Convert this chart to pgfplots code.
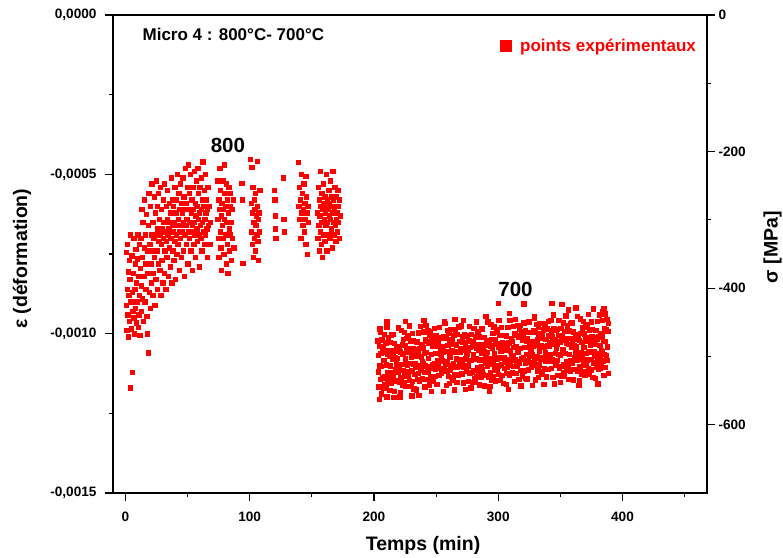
\documentclass[border=0pt]{standalone}
\usepackage{pgfplots}
\pgfplotsset{compat=1.18}
\usepackage{fontspec}
\setmainfont{Liberation Sans}
\begin{document}
\begin{tikzpicture}[font=\bfseries]
\begin{axis}[
  scale only axis,
  width=594pt, height=478pt,
  xmin=-10, xmax=468,
  ymin=-0.0015, ymax=0,
  xtick={0,100,...,400},
  minor xtick={50,150,...,450},
  ytick={-0.0015,-0.001,-0.0005,0},
  minor ytick={-0.00125,-0.00075,-0.00025},
  xtick pos=bottom, ytick pos=left,
  tick align=outside,
  major tick length=8pt, minor tick length=4pt,
  tick style={black, line width=1.1pt},
  axis line style={line width=1.3pt},
  scaled y ticks=false,
  yticklabel style={xshift=-5pt, /pgf/number format/.cd, fixed, fixed zerofill, precision=4, use comma},
  /pgf/number format/assume math mode=true,
  ticklabel style={font=\bfseries\fontsize{13.6}{16}\selectfont},
  xticklabel style={yshift=-7pt},
  xlabel={Temps (min)}, ylabel={ε (déformation)},
  label style={font=\bfseries\fontsize{19.5}{22}\selectfont},
  xlabel style={at={(axis description cs:0.522,0)}, yshift=-52pt, anchor=center},
  ylabel style={at={(axis description cs:-0.153,0.49)}, anchor=center},
  legend style={at={(axis description cs:0.985,0.955)}, anchor=north east, draw=none, fill=none,
    font=\bfseries\fontsize{17}{20}\selectfont, text=red, inner sep=0pt},
  legend image code/.code={\fill[red] (0pt,-5.5pt) rectangle (11pt,5.5pt); \path (18pt,0pt);},
]
\coordinate (SW) at (rel axis cs:0,0);
\coordinate (NE) at (rel axis cs:1,1);
% 800 C segment
\addplot[only marks, mark=square*, mark size=2.2pt, color=red, mark options={draw=none, fill=red}] coordinates {
(0.5,-0.000745)(0.8,-0.000910)(1.0,-0.000990)(1.2,-0.000860)(1.5,-0.000720)(1.8,-0.000940)(2.0,-0.000805)(2.3,-0.001010)(2.6,-0.000880)(2.9,-0.000770)
(3.2,-0.000960)(3.5,-0.000830)(3.8,-0.001170)(4.0,-0.000690)(4.3,-0.000900)(4.6,-0.000985)(5.0,-0.000755)(5.3,-0.001120)(5.6,-0.000870)(5.9,-0.000930)
(6.2,-0.000810)(6.5,-0.000950)(6.8,-0.000700)(7.1,-0.001000)(7.4,-0.000860)(7.7,-0.000780)(8.0,-0.000920)(8.3,-0.000735)(8.6,-0.000965)(8.9,-0.000840)
(9.2,-0.000900)(9.5,-0.000765)(9.8,-0.000690)(10.1,-0.000980)(10.4,-0.000820)(10.7,-0.000940)(11.0,-0.000720)(11.3,-0.000880)(11.6,-0.001005)(11.9,-0.000795)
(12.2,-0.000700)(12.5,-0.000850)(12.8,-0.000930)(13.1,-0.000610)(13.4,-0.000760)(13.7,-0.000890)(14.0,-0.000650)(14.3,-0.000960)(14.6,-0.000820)(14.9,-0.000730)
(15.2,-0.000580)(15.5,-0.000900)(15.8,-0.000690)(16.1,-0.000780)(16.4,-0.000860)(16.7,-0.000625)(17.0,-0.000945)(17.3,-0.000740)(17.6,-0.001000)(17.9,-0.000810)
(18.2,-0.000660)(18.5,-0.001060)(18.8,-0.000560)(19.1,-0.000870)(19.4,-0.000720)(19.7,-0.000920)(20.0,-0.000600)(20.3,-0.000780)(20.6,-0.000690)(20.9,-0.000840)
(21.2,-0.000530)(21.5,-0.000740)(21.8,-0.000880)(22.1,-0.000650)(22.4,-0.000810)(22.7,-0.000700)(23.0,-0.000570)(23.3,-0.000760)(23.6,-0.000910)(23.9,-0.000620)
(24.2,-0.000690)(24.5,-0.000830)(24.8,-0.000520)(25.1,-0.000740)(25.4,-0.000600)(25.7,-0.000860)(26.0,-0.000670)(26.3,-0.000780)(26.6,-0.000560)(26.9,-0.000710)
(27.2,-0.000640)(27.5,-0.000800)(27.8,-0.000690)(28.1,-0.000540)(28.4,-0.000880)(28.7,-0.000720)(29.0,-0.000610)(29.3,-0.000770)(29.6,-0.000670)(29.9,-0.000840)
(30.2,-0.000580)(30.5,-0.000700)(30.8,-0.000650)(31.1,-0.000810)(31.4,-0.000530)(31.7,-0.000740)(32.0,-0.000680)(32.3,-0.000860)(32.6,-0.000600)(32.9,-0.000710)
(33.2,-0.000760)(33.5,-0.000640)(33.8,-0.000550)(34.1,-0.000690)(34.4,-0.000820)(34.7,-0.000670)(35.0,-0.000590)(35.3,-0.000730)(35.6,-0.000650)(35.9,-0.000790)
(36.2,-0.000620)(36.5,-0.000700)(36.8,-0.000510)(37.1,-0.000840)(37.4,-0.000660)(37.7,-0.000580)(38.0,-0.000740)(38.3,-0.000680)(38.6,-0.000600)(38.9,-0.000770)
(39.2,-0.000650)(39.5,-0.000540)(39.8,-0.000710)(40.1,-0.000830)(40.4,-0.000620)(40.7,-0.000690)(41.0,-0.000580)(41.3,-0.000750)(41.6,-0.000660)(41.9,-0.000500)
(42.2,-0.000720)(42.5,-0.000640)(42.8,-0.000560)(43.1,-0.000800)(43.4,-0.000680)(43.7,-0.000610)(44.0,-0.000700)(44.3,-0.000530)(44.6,-0.000660)(44.9,-0.000760)
(45.2,-0.000590)(45.5,-0.000680)(45.8,-0.000620)(46.1,-0.000510)(46.4,-0.000740)(46.7,-0.000650)(47.0,-0.000570)(47.3,-0.000820)(47.6,-0.000690)(47.9,-0.000610)
(48.2,-0.000480)(48.5,-0.000660)(48.8,-0.000720)(49.1,-0.000590)(49.4,-0.000640)(49.7,-0.000540)(50.0,-0.000780)(50.3,-0.000470)(50.6,-0.000680)(50.9,-0.000610)
(51.2,-0.000700)(51.5,-0.000560)(51.8,-0.000650)(52.1,-0.000500)(52.4,-0.000740)(52.7,-0.000620)(53.0,-0.000680)(53.3,-0.000580)(53.6,-0.000800)(53.9,-0.000660)
(54.2,-0.000540)(54.5,-0.000610)(54.8,-0.000720)(55.1,-0.000650)(55.4,-0.000490)(55.7,-0.000690)(56.0,-0.000590)(56.3,-0.000760)(56.6,-0.000630)(56.9,-0.000520)
(57.2,-0.000670)(57.5,-0.000600)(57.8,-0.000710)(58.1,-0.000480)(58.4,-0.000640)(58.7,-0.000560)(59.0,-0.000690)(59.3,-0.000790)(59.6,-0.000620)(59.9,-0.000540)
(60.2,-0.000660)(60.5,-0.000700)(60.8,-0.000510)(61.1,-0.000610)(61.4,-0.000740)(61.7,-0.000580)(62.0,-0.000650)(62.3,-0.000460)(62.6,-0.000680)(62.9,-0.000600)
(63.2,-0.000720)(63.5,-0.000550)(63.8,-0.000640)(64.1,-0.000690)(64.4,-0.000500)(64.7,-0.000620)(65.0,-0.000580)(65.3,-0.000670)(65.6,-0.000760)(65.9,-0.000610)
(66.3,-0.000540)(66.8,-0.000660)(67.3,-0.000600)(67.8,-0.000720)(68.3,-0.000650)
(74.0,-0.000520)(74.3,-0.000640)(74.6,-0.000700)(74.9,-0.000580)(75.2,-0.000760)(75.5,-0.000610)(75.8,-0.000480)(76.1,-0.000680)(76.4,-0.000550)(76.7,-0.000730)
(77.0,-0.000630)(77.3,-0.000800)(77.6,-0.000590)(77.9,-0.000660)(78.2,-0.000520)(78.5,-0.000700)(78.8,-0.000610)(79.1,-0.000750)(79.4,-0.000470)(79.7,-0.000640)
(80.0,-0.000560)(80.3,-0.000690)(80.6,-0.000600)(80.9,-0.000780)(81.2,-0.000530)(81.5,-0.000650)(81.8,-0.000720)(82.1,-0.000580)(82.4,-0.000810)(82.7,-0.000620)
(83.0,-0.000540)(83.3,-0.000670)(83.6,-0.000740)(83.9,-0.000600)(84.2,-0.000690)(84.5,-0.000560)(84.8,-0.000650)(85.2,-0.000770)(85.6,-0.000610)(86.0,-0.000700)
(86.5,-0.000580)(87.0,-0.000730)
(93.5,-0.000527)(94.0,-0.000580)(94.3,-0.000778)
(100.5,-0.000452)(101.0,-0.000590)(101.3,-0.000680)(101.6,-0.000477)(101.9,-0.000720)(102.2,-0.000620)(102.5,-0.000540)(102.8,-0.000760)(103.1,-0.000650)(103.4,-0.000580)
(103.7,-0.000700)(104.0,-0.000610)(104.3,-0.000740)(104.6,-0.000560)(104.9,-0.000660)(105.2,-0.000630)(105.5,-0.000690)(105.8,-0.000458)(106.1,-0.000600)(106.4,-0.000710)
(106.7,-0.000640)(107.0,-0.000770)(107.3,-0.000620)(107.6,-0.000680)(108.0,-0.000550)
(119.5,-0.000550)(120.0,-0.000580)(120.3,-0.000630)(120.6,-0.000670)(121.0,-0.000700)
(127.0,-0.000510)(127.3,-0.000640)(127.6,-0.000680)
(139.0,-0.000462)(139.4,-0.000600)(139.8,-0.000540)(140.2,-0.000640)(140.6,-0.000580)(141.0,-0.000700)(141.4,-0.000500)(141.8,-0.000620)(142.2,-0.000560)(142.6,-0.000660)
(143.0,-0.000610)(143.4,-0.000530)(143.8,-0.000680)(144.2,-0.000590)(144.6,-0.000640)(145.0,-0.000720)(145.4,-0.000570)(145.8,-0.000620)(146.2,-0.000750)(146.6,-0.000600)
(147.0,-0.000650)(145.2,-0.000505)
(154.5,-0.000620)(154.8,-0.000700)(155.1,-0.000540)(155.4,-0.000660)(155.7,-0.000740)(156.0,-0.000580)(156.3,-0.000630)(156.6,-0.000490)(156.9,-0.000680)(157.2,-0.000600)
(157.5,-0.000720)(157.8,-0.000560)(158.1,-0.000650)(158.4,-0.000760)(158.7,-0.000610)(159.0,-0.000530)(159.3,-0.000690)(159.6,-0.000590)(159.9,-0.000640)(160.2,-0.000710)
(160.5,-0.000570)(160.8,-0.000620)(161.1,-0.000660)(161.4,-0.000500)(161.7,-0.000600)(162.0,-0.000740)(162.3,-0.000580)(162.6,-0.000650)(162.9,-0.000610)(163.2,-0.000690)
(163.5,-0.000550)(163.8,-0.000630)(164.1,-0.000590)(164.4,-0.000700)(164.7,-0.000520)(165.0,-0.000640)(165.3,-0.000600)(165.6,-0.000670)(165.9,-0.000570)(166.2,-0.000730)
(166.5,-0.000620)(166.8,-0.000490)(167.1,-0.000650)(167.4,-0.000580)(167.7,-0.000690)(168.0,-0.000610)(168.3,-0.000540)(168.6,-0.000660)(168.9,-0.000600)(169.2,-0.000710)
(169.5,-0.000570)(169.8,-0.000640)(170.1,-0.000620)(170.4,-0.000680)(170.7,-0.000550)(171.0,-0.000600)(171.4,-0.000650)(171.8,-0.000700)(172.2,-0.000580)(172.6,-0.000630)
};
\addlegendentry{points expérimentaux}
% 700 C segment
\addplot[only marks, mark=square*, mark size=2.2pt, color=red, mark options={draw=none, fill=red}, forget plot] coordinates {
(203.0,-0.001022)(203.3,-0.001119)(203.6,-0.001068)(203.9,-0.001167)(204.2,-0.001040)(204.5,-0.001101)(204.8,-0.000994)(205.1,-0.001143)(205.4,-0.001061)(205.7,-0.001188)
(206.0,-0.001102)(206.3,-0.001019)(206.6,-0.001138)(206.9,-0.001057)(207.2,-0.001170)(207.5,-0.001041)(207.8,-0.001084)(208.1,-0.001133)(208.4,-0.001001)(208.7,-0.001158)
(209.0,-0.001052)(209.3,-0.001169)(209.6,-0.001028)(209.9,-0.001097)(210.2,-0.000980)(210.5,-0.001151)(210.8,-0.001064)(211.1,-0.001123)(211.4,-0.001011)(211.7,-0.001138)
(212.0,-0.001132)(212.3,-0.001069)(212.6,-0.001178)(212.9,-0.001027)(213.2,-0.001100)(213.5,-0.001051)(213.8,-0.001154)(214.1,-0.001003)(214.4,-0.001121)(214.7,-0.001078)
(215.0,-0.001002)(215.3,-0.001129)(215.6,-0.001058)(215.9,-0.001147)(216.2,-0.001030)(216.5,-0.001181)(216.8,-0.001074)(217.1,-0.001053)(217.4,-0.001111)(217.7,-0.001098)
(218.0,-0.001092)(218.3,-0.001039)(218.6,-0.001148)(218.9,-0.001077)(219.2,-0.001120)(219.5,-0.000981)(219.8,-0.001104)(220.1,-0.001153)(220.4,-0.001051)(220.7,-0.001198)
(221.0,-0.001183)(221.3,-0.001056)(221.6,-0.001138)(221.9,-0.000989)(222.2,-0.001096)(222.5,-0.001035)(222.8,-0.001162)(223.1,-0.001063)(223.4,-0.001114)(223.7,-0.001017)
(224.0,-0.001153)(224.3,-0.000996)(224.6,-0.001128)(224.9,-0.001079)(225.2,-0.001036)(225.5,-0.001165)(225.8,-0.001052)(226.1,-0.001133)(226.4,-0.001014)(226.7,-0.001097)
(227.0,-0.001133)(227.3,-0.001006)(227.6,-0.001118)(227.9,-0.001059)(228.2,-0.001146)(228.5,-0.000975)(228.8,-0.001092)(229.1,-0.001023)(229.4,-0.001164)(229.7,-0.001047)
(230.0,-0.001073)(230.3,-0.001116)(230.6,-0.000998)(230.9,-0.001149)(231.2,-0.001046)(231.5,-0.001095)(231.8,-0.001022)(232.1,-0.001173)(232.4,-0.001064)(232.7,-0.001127)
(233.0,-0.001093)(233.3,-0.001106)(233.6,-0.001048)(233.9,-0.001069)(234.2,-0.001176)(234.5,-0.001025)(234.8,-0.001142)(235.1,-0.001053)(235.4,-0.001124)(235.7,-0.000997)
(236.0,-0.001193)(236.3,-0.001046)(236.6,-0.001148)(236.9,-0.001099)(237.2,-0.000976)(237.5,-0.001115)(237.8,-0.001072)(238.1,-0.001143)(238.4,-0.001034)(238.7,-0.001087)
(239.0,-0.001139)(239.3,-0.001042)(239.6,-0.001093)(239.9,-0.000994)(240.2,-0.001121)(240.5,-0.001060)(240.8,-0.001167)(241.1,-0.001018)(241.4,-0.001100)(241.7,-0.000973)
(242.0,-0.001059)(242.3,-0.001142)(242.6,-0.001023)(242.9,-0.001104)(243.2,-0.000991)(243.5,-0.001120)(243.8,-0.001077)(244.1,-0.001028)(244.4,-0.001160)(244.7,-0.001003)
(245.0,-0.001109)(245.3,-0.000992)(245.6,-0.001133)(245.9,-0.001064)(246.2,-0.001181)(246.5,-0.001010)(246.8,-0.001097)(247.1,-0.001038)(247.4,-0.001150)(247.7,-0.001023)
(248.0,-0.001029)(248.3,-0.001092)(248.6,-0.000983)(248.9,-0.001134)(249.2,-0.001061)(249.5,-0.001110)(249.8,-0.001007)(250.1,-0.001158)(250.4,-0.001040)(250.7,-0.001083)
(251.0,-0.001159)(251.3,-0.001032)(251.6,-0.001103)(251.9,-0.001014)(252.2,-0.001131)(252.5,-0.000980)(252.8,-0.001087)(253.1,-0.001108)(253.4,-0.001050)(253.7,-0.001063)
(254.0,-0.001069)(254.3,-0.001122)(254.6,-0.001013)(254.9,-0.001084)(255.2,-0.001041)(255.5,-0.001180)(255.8,-0.001057)(256.1,-0.001008)(256.4,-0.001110)(256.7,-0.000963)
(257.0,-0.000968)(257.3,-0.001095)(257.6,-0.001013)(257.9,-0.001162)(258.2,-0.001055)(258.5,-0.001116)(258.8,-0.000989)(259.1,-0.001088)(259.4,-0.001037)(259.7,-0.001134)
(260.0,-0.000998)(260.3,-0.001155)(260.6,-0.001023)(260.9,-0.001072)(261.2,-0.001115)(261.5,-0.000986)(261.8,-0.001099)(262.1,-0.001018)(262.4,-0.001137)(262.7,-0.001054)
(263.0,-0.001018)(263.3,-0.001145)(263.6,-0.001033)(263.9,-0.001092)(264.2,-0.001005)(264.5,-0.001176)(264.8,-0.001059)(265.1,-0.001128)(265.4,-0.000987)(265.7,-0.001104)
(266.0,-0.001078)(266.3,-0.001035)(266.6,-0.001153)(266.9,-0.001002)(267.2,-0.001105)(267.5,-0.001056)(267.8,-0.001129)(268.1,-0.000978)(268.4,-0.001087)(268.7,-0.001024)
(269.0,-0.001058)(269.3,-0.001045)(269.6,-0.001103)(269.9,-0.001082)(270.2,-0.000975)(270.5,-0.001126)(270.8,-0.001009)(271.1,-0.001098)(271.4,-0.001027)(271.7,-0.001154)
(272.0,-0.000958)(272.3,-0.001105)(272.6,-0.001003)(272.9,-0.001052)(273.2,-0.001175)(273.5,-0.001036)(273.8,-0.001079)(274.1,-0.001008)(274.4,-0.001117)(274.7,-0.001064)
(275.0,-0.001004)(275.3,-0.001101)(275.6,-0.001050)(275.9,-0.001149)(276.2,-0.001022)(276.5,-0.001083)(276.8,-0.000976)(277.1,-0.001125)(277.4,-0.001043)(277.7,-0.001170)
(278.0,-0.001084)(278.3,-0.001001)(278.6,-0.001120)(278.9,-0.001039)(279.2,-0.001152)(279.5,-0.001023)(279.8,-0.001066)(280.1,-0.001115)(280.4,-0.000983)(280.7,-0.001140)
(281.0,-0.001034)(281.3,-0.001151)(281.6,-0.001010)(281.9,-0.001079)(282.2,-0.000962)(282.5,-0.001133)(282.8,-0.001046)(283.1,-0.001105)(283.4,-0.000993)(283.7,-0.001120)
(284.0,-0.001114)(284.3,-0.001051)(284.6,-0.001160)(284.9,-0.001009)(285.2,-0.001082)(285.5,-0.001033)(285.8,-0.001136)(286.1,-0.000985)(286.4,-0.001103)(286.7,-0.001060)
(287.0,-0.000984)(287.3,-0.001111)(287.6,-0.001040)(287.9,-0.001129)(288.2,-0.001012)(288.5,-0.001163)(288.8,-0.001056)(289.1,-0.001035)(289.4,-0.001093)(289.7,-0.001080)
(290.0,-0.001074)(290.3,-0.001021)(290.6,-0.001130)(290.9,-0.001059)(291.2,-0.001102)(291.5,-0.000963)(291.8,-0.001086)(292.1,-0.001135)(292.4,-0.001033)(292.7,-0.001180)
(293.0,-0.001165)(293.3,-0.001038)(293.6,-0.001120)(293.9,-0.000971)(294.2,-0.001078)(294.5,-0.001017)(294.8,-0.001144)(295.1,-0.001045)(295.4,-0.001096)(295.7,-0.000999)
(296.0,-0.001135)(296.3,-0.000978)(296.6,-0.001110)(296.9,-0.001061)(297.2,-0.001018)(297.5,-0.001147)(297.8,-0.001034)(298.1,-0.001115)(298.4,-0.000996)(298.7,-0.001079)
(299.0,-0.001115)(299.3,-0.000988)(299.6,-0.001100)(299.9,-0.001041)(300.2,-0.001128)(300.5,-0.000957)(300.8,-0.001074)(301.1,-0.001005)(301.4,-0.001146)(301.7,-0.001029)
(302.0,-0.001055)(302.3,-0.001098)(302.6,-0.000980)(302.9,-0.001131)(303.2,-0.001028)(303.5,-0.001077)(303.8,-0.001004)(304.1,-0.001155)(304.4,-0.001046)(304.7,-0.001109)
(305.0,-0.001075)(305.3,-0.001088)(305.6,-0.001030)(305.9,-0.001051)(306.2,-0.001158)(306.5,-0.001007)(306.8,-0.001124)(307.1,-0.001035)(307.4,-0.001106)(307.7,-0.000979)
(308.0,-0.001175)(308.3,-0.001028)(308.6,-0.001130)(308.9,-0.001081)(309.2,-0.000958)(309.5,-0.001097)(309.8,-0.001054)(310.1,-0.001125)(310.4,-0.001016)(310.7,-0.001069)
(311.0,-0.001121)(311.3,-0.001024)(311.6,-0.001075)(311.9,-0.000976)(312.2,-0.001103)(312.5,-0.001042)(312.8,-0.001149)(313.1,-0.001000)(313.4,-0.001082)(313.7,-0.000955)
(314.0,-0.001041)(314.3,-0.001124)(314.6,-0.001005)(314.9,-0.001086)(315.2,-0.000973)(315.5,-0.001102)(315.8,-0.001059)(316.1,-0.001010)(316.4,-0.001142)(316.7,-0.000985)
(317.0,-0.001091)(317.3,-0.000974)(317.6,-0.001115)(317.9,-0.001046)(318.2,-0.001163)(318.5,-0.000992)(318.8,-0.001079)(319.1,-0.001020)(319.4,-0.001132)(319.7,-0.001005)
(320.0,-0.001011)(320.3,-0.001074)(320.6,-0.000965)(320.9,-0.001116)(321.2,-0.001043)(321.5,-0.001092)(321.8,-0.000989)(322.1,-0.001140)(322.4,-0.001022)(322.7,-0.001065)
(323.0,-0.001141)(323.3,-0.001014)(323.6,-0.001085)(323.9,-0.000996)(324.2,-0.001113)(324.5,-0.000962)(324.8,-0.001069)(325.1,-0.001090)(325.4,-0.001032)(325.7,-0.001045)
(326.0,-0.001051)(326.3,-0.001104)(326.6,-0.000995)(326.9,-0.001066)(327.2,-0.001023)(327.5,-0.001162)(327.8,-0.001039)(328.1,-0.000990)(328.4,-0.001092)(328.7,-0.000945)
(329.0,-0.000950)(329.3,-0.001077)(329.6,-0.000995)(329.9,-0.001144)(330.2,-0.001037)(330.5,-0.001098)(330.8,-0.000971)(331.1,-0.001070)(331.4,-0.001019)(331.7,-0.001116)
(332.0,-0.000980)(332.3,-0.001137)(332.6,-0.001005)(332.9,-0.001054)(333.2,-0.001097)(333.5,-0.000968)(333.8,-0.001081)(334.1,-0.001000)(334.4,-0.001119)(334.7,-0.001036)
(335.0,-0.001000)(335.3,-0.001127)(335.6,-0.001015)(335.9,-0.001074)(336.2,-0.000987)(336.5,-0.001158)(336.8,-0.001041)(337.1,-0.001110)(337.4,-0.000969)(337.7,-0.001086)
(338.0,-0.001060)(338.3,-0.001017)(338.6,-0.001135)(338.9,-0.000984)(339.2,-0.001087)(339.5,-0.001038)(339.8,-0.001111)(340.1,-0.000960)(340.4,-0.001069)(340.7,-0.001006)
(341.0,-0.001040)(341.3,-0.001027)(341.6,-0.001085)(341.9,-0.001064)(342.2,-0.000957)(342.5,-0.001108)(342.8,-0.000991)(343.1,-0.001080)(343.4,-0.001009)(343.7,-0.001136)
(344.0,-0.000940)(344.3,-0.001087)(344.6,-0.000985)(344.9,-0.001034)(345.2,-0.001157)(345.5,-0.001018)(345.8,-0.001061)(346.1,-0.000990)(346.4,-0.001099)(346.7,-0.001046)
(347.0,-0.000986)(347.3,-0.001083)(347.6,-0.001032)(347.9,-0.001131)(348.2,-0.001004)(348.5,-0.001065)(348.8,-0.000958)(349.1,-0.001107)(349.4,-0.001025)(349.7,-0.001152)
(350.0,-0.001066)(350.3,-0.000983)(350.6,-0.001102)(350.9,-0.001021)(351.2,-0.001134)(351.5,-0.001005)(351.8,-0.001048)(352.1,-0.001097)(352.4,-0.000965)(352.7,-0.001122)
(353.0,-0.001016)(353.3,-0.001133)(353.6,-0.000992)(353.9,-0.001061)(354.2,-0.000944)(354.5,-0.001115)(354.8,-0.001028)(355.1,-0.001087)(355.4,-0.000975)(355.7,-0.001102)
(356.0,-0.001096)(356.3,-0.001033)(356.6,-0.001142)(356.9,-0.000991)(357.2,-0.001064)(357.5,-0.001015)(357.8,-0.001118)(358.1,-0.000967)(358.4,-0.001085)(358.7,-0.001042)
(359.0,-0.000966)(359.3,-0.001093)(359.6,-0.001022)(359.9,-0.001111)(360.2,-0.000994)(360.5,-0.001145)(360.8,-0.001038)(361.1,-0.001017)(361.4,-0.001075)(361.7,-0.001062)
(362.0,-0.001056)(362.3,-0.001003)(362.6,-0.001112)(362.9,-0.001041)(363.2,-0.001084)(363.5,-0.000945)(363.8,-0.001068)(364.1,-0.001117)(364.4,-0.001015)(364.7,-0.001162)
(365.0,-0.001147)(365.3,-0.001020)(365.6,-0.001102)(365.9,-0.000953)(366.2,-0.001060)(366.5,-0.000999)(366.8,-0.001126)(367.1,-0.001027)(367.4,-0.001078)(367.7,-0.000981)
(368.0,-0.001117)(368.3,-0.000960)(368.6,-0.001092)(368.9,-0.001043)(369.2,-0.001000)(369.5,-0.001129)(369.8,-0.001016)(370.1,-0.001097)(370.4,-0.000978)(370.7,-0.001061)
(371.0,-0.001097)(371.3,-0.000970)(371.6,-0.001082)(371.9,-0.001023)(372.2,-0.001110)(372.5,-0.000939)(372.8,-0.001056)(373.1,-0.000987)(373.4,-0.001128)(373.7,-0.001011)
(374.0,-0.001037)(374.3,-0.001080)(374.6,-0.000962)(374.9,-0.001113)(375.2,-0.001010)(375.5,-0.001059)(375.8,-0.000986)(376.1,-0.001137)(376.4,-0.001028)(376.7,-0.001091)
(377.0,-0.001057)(377.3,-0.001070)(377.6,-0.001012)(377.9,-0.001033)(378.2,-0.001140)(378.5,-0.000989)(378.8,-0.001106)(379.1,-0.001017)(379.4,-0.001088)(379.7,-0.000961)
(380.0,-0.001157)(380.3,-0.001010)(380.6,-0.001112)(380.9,-0.001063)(381.2,-0.000940)(381.5,-0.001079)(381.8,-0.001036)(382.1,-0.001107)(382.4,-0.000998)(382.7,-0.001051)
(383.0,-0.001103)(383.3,-0.001006)(383.6,-0.001057)(383.9,-0.000958)(384.2,-0.001085)(384.5,-0.001024)(384.8,-0.001131)(385.1,-0.000982)(385.4,-0.001064)(385.7,-0.000937)
(386.0,-0.001023)(386.3,-0.001106)(386.6,-0.000987)(386.9,-0.001068)(387.2,-0.000955)(387.5,-0.001084)(387.8,-0.001041)(388.1,-0.000992)(388.4,-0.001124)(388.7,-0.000967)
(300.1,-0.000904)(320.5,-0.000906)(343.0,-0.000905)(351.0,-0.000908)(356.2,-0.000925)(362.4,-0.000918)(376.3,-0.000922)(385.0,-0.000920)(383.8,-0.000930)(309.0,-0.000935)
(204.0,-0.001205)(210.1,-0.001198)(216.0,-0.001200)(230.4,-0.001195)(204.6,-0.000985)(210.4,-0.000962)(225.0,-0.000960)(265.0,-0.000955)(290.0,-0.000945)(240.0,-0.000958)
};
\node[font=\bfseries\fontsize{17}{20}\selectfont, anchor=base west, inner sep=0pt] at (axis cs:13.7,-0.0000816) {Micro 4 : 800°C- 700°C};
\node[font=\bfseries\fontsize{20.5}{24}\selectfont, anchor=base, inner sep=0pt] at (axis cs:82.5,-0.000433) {800};
\node[font=\bfseries\fontsize{20.5}{24}\selectfont, anchor=base, inner sep=0pt] at (axis cs:313.9,-0.000882) {700};
\end{axis}
\begin{axis}[
  scale only axis,
  width=594pt, height=478pt,
  xmin=-10, xmax=468,
  ymin=-700, ymax=0,
  axis x line*=top, axis y line*=right,
  xtick=\empty,
  minor xtick={0,50,...,450},
  ytick={-600,-400,-200,0},
  minor ytick={-500,-300,-100},
  tick align=outside,
  major tick length=8pt, minor tick length=4pt,
  tick style={black, line width=1.1pt},
  axis line style={line width=1.3pt},
  /pgf/number format/assume math mode=true,
  ticklabel style={font=\bfseries\fontsize{13.6}{16}\selectfont},
  ylabel={σ [MPa]},
  label style={font=\bfseries\fontsize{19.5}{22}\selectfont},
  ylabel style={at={(axis description cs:1.1103,0.514)}, anchor=center},
]
\end{axis}
\pgfresetboundingbox
\path ([shift={(-113pt,-65pt)}]SW) rectangle ([shift={(76pt,15pt)}]NE);
\end{tikzpicture}
\end{document}
